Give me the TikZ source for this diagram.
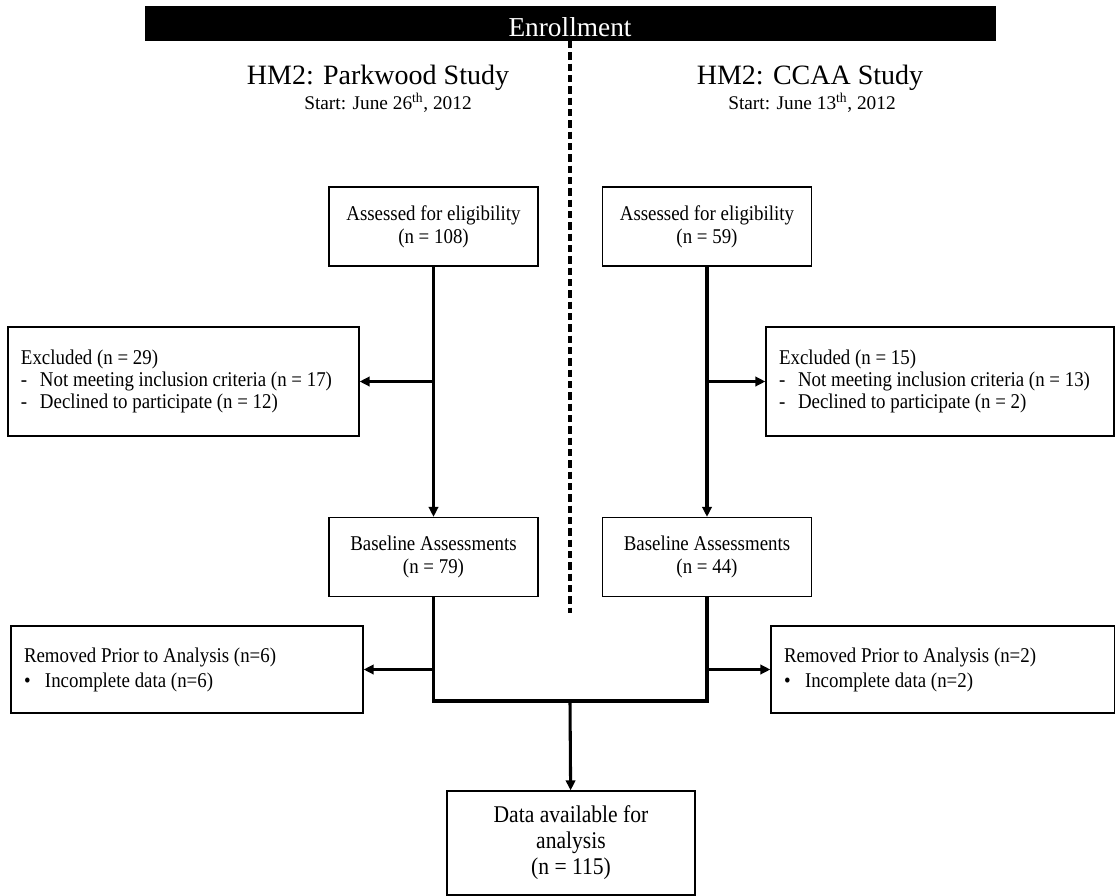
\documentclass[tikz,border=0pt]{standalone}
\usepackage{fontspec}
\setmainfont{Liberation Serif}[FakeStretch=0.9]
\newfontfamily\headfont{Liberation Serif}
\usetikzlibrary{arrows.meta,positioning}

\tikzset{
  stagebox/.style={draw,line width=0.9pt,align=center,inner sep=2pt,
    minimum width=156.75pt,minimum height=59.25pt,
    font=\fontsize{15.75}{17.25}\selectfont},
  exclbox/.style={draw,line width=0.9pt,align=flush left,inner xsep=9.75pt,
    font=\fontsize{15.75}{16.5}\selectfont},
  studytitle/.style={inner sep=0pt,anchor=base,font=\headfont\fontsize{21}{23}\selectfont},
  studystart/.style={inner sep=0pt,anchor=base,font=\headfont\fontsize{14.5}{16}\selectfont},
  flow/.style={line width=2.3pt,-{Triangle[length=7.5pt,width=7pt]}},
  joinline/.style={line width=2.3pt},
}
\newcommand{\dashitem}{\makebox[14.25pt][l]{-}}
\newcommand{\bulitem}{\makebox[15.75pt][l]{\textbullet}}

\begin{document}
\begin{tikzpicture}[x=0.75pt,y=-0.75pt]
  \useasboundingbox (0,0) rectangle (1115,896);

  % Enrollment banner and divider
  \fill[black] (145,6) rectangle (996,41);
  \node[white,font=\headfont\fontsize{20.5}{22}\selectfont,anchor=base] (enrol) at (570,36) {Enrollment};
  \draw[line width=2.4pt,dash pattern=on 5.5pt off 3pt] (570,41) -- (570,613);

  % Study headings
  \node[studytitle] (parkT) at (378,84) {HM2: Parkwood Study};
  \node[studystart] (parkS) at (388,109) {Start: June 26\textsuperscript{th}, 2012};
  \node[studytitle] (ccaaT) at (810,84) {HM2: CCAA Study};
  \node[studystart] (ccaaS) at (812,109) {Start: June 13\textsuperscript{th}, 2012};

  % Parkwood column
  \node[stagebox] (assessP) at (433.5,226.5) {Assessed for eligibility\\(n = 108)};
  \node[exclbox,text width=243.75pt,minimum height=81.75pt] (exclP) at (183.5,381.5)
    {Excluded (n = 29)\\\dashitem Not meeting inclusion criteria (n = 17)\\\dashitem Declined to participate (n = 12)};
  \node[stagebox] (baseP) at (433.5,557) {Baseline Assessments\\(n = 79)};
  \node[exclbox,text width=244.5pt,minimum height=65.25pt,font=\fontsize{15.75}{18.75}\selectfont] (remP) at (187,669.5)
    {Removed Prior to Analysis (n=6)\\\bulitem Incomplete data (n=6)};

  % CCAA column
  \node[stagebox] (assessC) at (707,226.5) {Assessed for eligibility\\(n = 59)};
  \node[exclbox,text width=241.5pt,minimum height=81.75pt] (exclC) at (940,381.5)
    {Excluded (n = 15)\\\dashitem Not meeting inclusion criteria (n = 13)\\\dashitem Declined to participate (n = 2)};
  \node[stagebox] (baseC) at (707,557) {Baseline Assessments\\(n = 44)};
  \node[exclbox,text width=238.5pt,minimum height=65.25pt,font=\fontsize{15.75}{18.75}\selectfont] (remC) at (943,669.5)
    {Removed Prior to Analysis (n=2)\\\bulitem Incomplete data (n=2)};

  % Pooled data
  \coordinate (join) at (570,701);
  \node[draw,line width=0.9pt,align=center,minimum width=186pt,minimum height=78pt,
    font=\fontsize{18}{19.5}\selectfont] (avail) at (571,843) {Data available for\\analysis\\(n = 115)};

  % Connectors
  \draw[flow] (assessP) -- (baseP);
  \draw[flow] (assessP.south |- exclP.east) -- (exclP.east);
  \draw[flow] (assessC) -- (baseC);
  \draw[flow] (assessC.south |- exclC.west) -- (exclC.west);
  \draw[joinline] (baseP.south) -- (baseP.south |- join) -- (baseC.south |- join) -- (baseC.south);
  \draw[flow] (baseP.south |- remP.east) -- (remP.east);
  \draw[flow] (baseC.south |- remC.west) -- (remC.west);
  \draw[flow] (join) -- (avail);
\end{tikzpicture}
\end{document}
